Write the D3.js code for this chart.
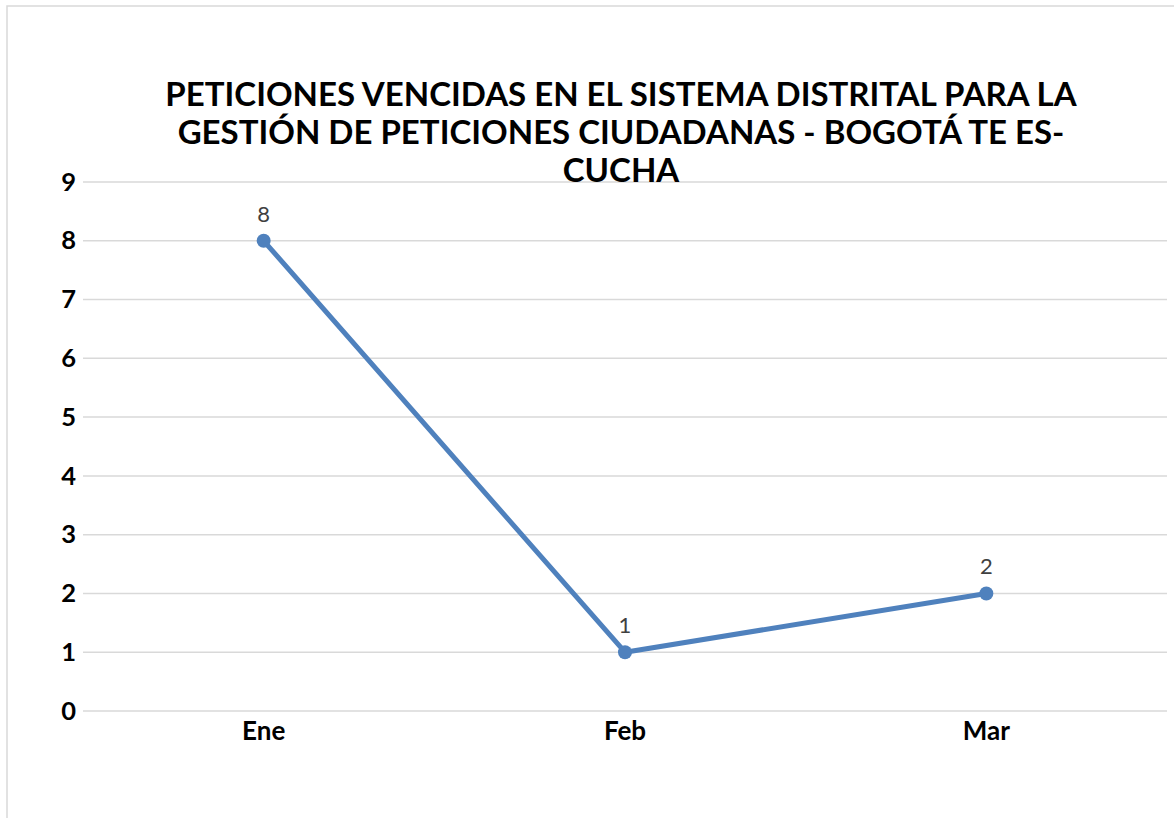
<!DOCTYPE html>
<html><head><meta charset="utf-8">
<script src="https://cdn.jsdelivr.net/npm/d3@7"></script>
<style>body{margin:0;background:#fff;}svg{display:block;}</style>
</head><body>
<script>
const categories = ["Ene", "Feb", "Mar"];
const values = [8, 1, 2];
const yTicks = [0, 1, 2, 3, 4, 5, 6, 7, 8, 9];
const titleLines = [
  "PETICIONES VENCIDAS EN EL SISTEMA DISTRITAL PARA LA",
  "GESTIÓN DE PETICIONES CIUDADANAS - BOGOTÁ TE ES-",
  "CUCHA"
];

(function () {
const W = 1174, H = 818;
const svg = d3.select("body").append("svg").attr("width", W).attr("height", H);
svg.append("rect").attr("width", W).attr("height", H).attr("fill", "#fff");
svg.append("rect").attr("x", 7).attr("y", 6).attr("width", W + 20).attr("height", H + 20)
  .attr("fill", "none").attr("stroke", "#d9d9d9").attr("stroke-width", 1.5);

const font = "Lato, Carlito, 'Liberation Sans', sans-serif";
const pLeft = 83, pRight = 1167, pTop = 182, pBottom = 711;

const x = d3.scaleBand().domain(categories).range([pLeft, pRight]);
const y = d3.scaleLinear().domain([0, 9]).range([pBottom, pTop]);

// gridlines
svg.append("g").selectAll("line").data(yTicks).join("line")
  .attr("x1", pLeft).attr("x2", pRight)
  .attr("y1", d => y(d)).attr("y2", d => y(d))
  .attr("stroke", "#d9d9d9").attr("stroke-width", 1.5);

// y axis labels
const yAxis = d3.axisLeft(y).tickValues(yTicks).tickSize(0).tickPadding(7).tickFormat(d3.format("d"));
const yg = svg.append("g").attr("transform", `translate(${pLeft},0)`).call(yAxis);
yg.select(".domain").remove();
yg.selectAll("text").attr("font-family", font).attr("font-size", 25.5).attr("font-weight", "bold").attr("fill", "#000");

// x axis labels
const xAxis = d3.axisBottom(x).tickSize(0).tickPadding(11);
const xg = svg.append("g").attr("transform", `translate(0,${pBottom})`).call(xAxis);
xg.select(".domain").remove();
xg.selectAll("text").attr("font-family", font).attr("font-size", 26).attr("font-weight", "bold").attr("fill", "#000");

const cx = d => x(d) + x.bandwidth() / 2;
const pts = categories.map((c, i) => ({c, v: values[i]}));

svg.append("path").datum(pts)
  .attr("d", d3.line().x(d => cx(d.c)).y(d => y(d.v)))
  .attr("fill", "none").attr("stroke", "#4f81bd").attr("stroke-width", 5)
  .attr("stroke-linejoin", "round");

svg.append("g").selectAll("circle").data(pts).join("circle")
  .attr("cx", d => cx(d.c)).attr("cy", d => y(d.v)).attr("r", 7)
  .attr("fill", "#4f81bd");

svg.append("g").selectAll("text").data(pts).join("text")
  .attr("x", d => cx(d.c)).attr("y", d => y(d.v) - 19)
  .attr("text-anchor", "middle").attr("font-family", font).attr("font-size", 22)
  .attr("fill", "#404040").text(d => d.v);

// title
svg.append("g").selectAll("text").data(titleLines).join("text")
  .attr("x", 621).attr("y", (d, i) => 106 + i * 38)
  .attr("text-anchor", "middle").attr("font-family", font).attr("font-size", 33)
  .attr("font-weight", "bold").attr("fill", "#000").text(d => d);
})();
</script>
</body></html>
